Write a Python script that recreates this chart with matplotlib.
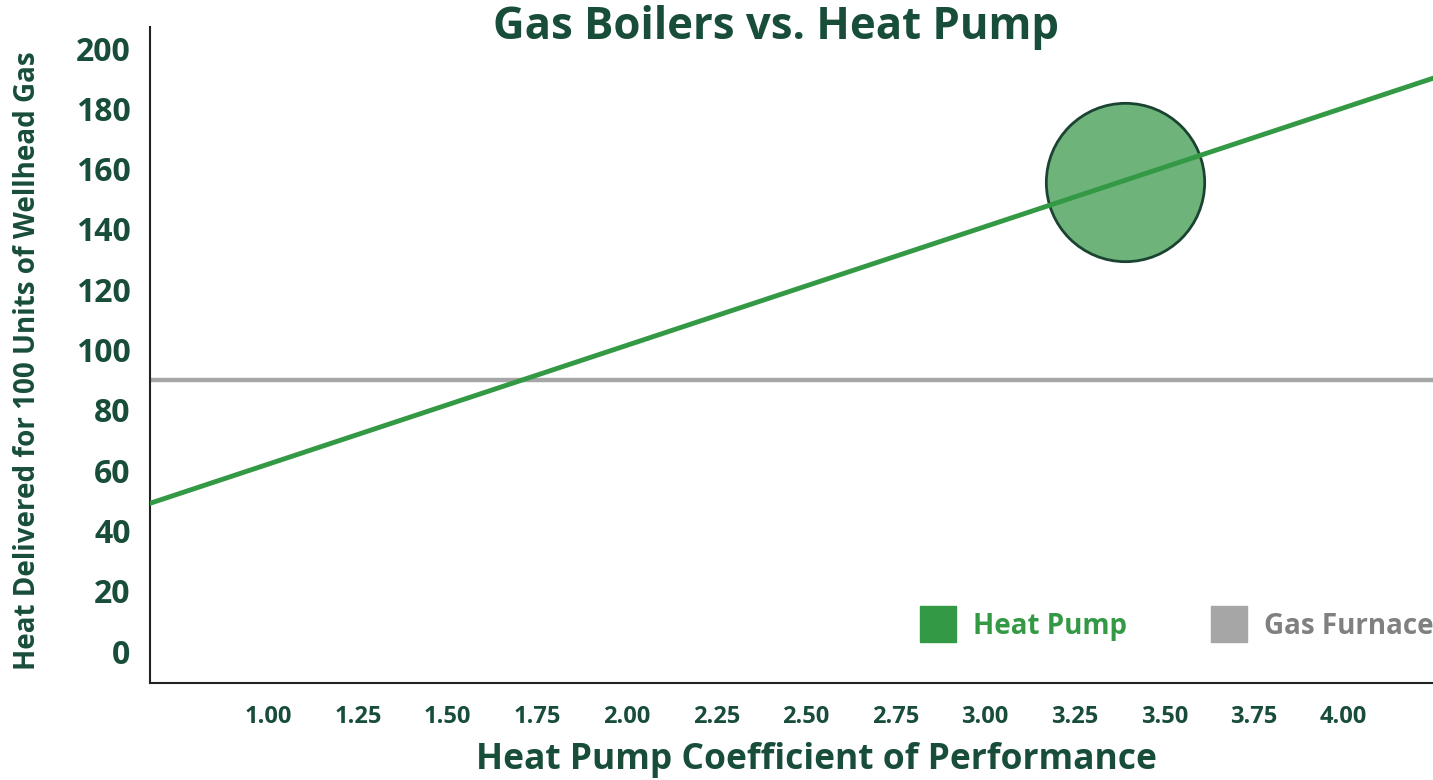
import matplotlib.pyplot as plt
from matplotlib.lines import Line2D

# values
hp_cop = [0.67, 4.25]
hp_heat = [49, 190]
gas_heat = 90
marker_cop = [3.39]
marker_heat = [155.6]
x_ticks = [1.00, 1.25, 1.50, 1.75, 2.00, 2.25, 2.50, 2.75, 3.00, 3.25, 3.50, 3.75, 4.00]
y_ticks = [0, 20, 40, 60, 80, 100, 120, 140, 160, 180, 200]

dark = '#174d39'
green = '#339944'
grey = '#a6a6a6'

plt.rcParams['font.family'] = ['Open Sans', 'DejaVu Sans']
plt.rcParams['font.weight'] = 'bold'

W, H = 1433, 780
fig = plt.figure(figsize=(14.33, 7.8), dpi=100)
ax = fig.add_axes([150 / W, 1 - 683 / H, 1 - 150 / W, (683 - 27) / H])

ax.axhline(gas_heat, color=grey, lw=3.2, zorder=2)
ax.scatter(marker_cop, marker_heat, s=13000, color='#6db37a', edgecolor='#1b4332', linewidth=2, zorder=3)
ax.plot(hp_cop, hp_heat, color=green, lw=3.5, zorder=4)

ax.set_xlim(0.67, 4.25)
ax.set_ylim(-10.6, 207)
ax.set_xticks(x_ticks)
ax.set_xticklabels(['%.2f' % v for v in x_ticks])
ax.set_yticks(y_ticks)
ax.tick_params(axis='x', length=0, pad=16, labelsize=17, labelcolor=dark)
ax.tick_params(axis='y', length=0, pad=14, labelsize=23, labelcolor=dark)
for lab in ax.get_xticklabels() + ax.get_yticklabels():
    lab.set_fontweight('bold')

for s in ['top', 'right']:
    ax.spines[s].set_visible(False)
for s in ['left', 'bottom']:
    ax.spines[s].set_color('#222222')
    ax.spines[s].set_linewidth(1.5)

fig.text(816 / W, 1 - 760 / H, 'Heat Pump Coefficient of Performance', ha='center', va='center',
         fontsize=25.5, color=dark, fontweight='bold')
fig.text(28 / W, 1 - 361 / H, 'Heat Delivered for 100 Units of Wellhead Gas', ha='center', va='center',
         rotation=90, fontsize=20, color=dark, fontweight='bold')
fig.text(776 / W, 1 - 27 / H, 'Gas Boilers vs. Heat Pump', ha='center', va='center',
         fontsize=31.5, color=dark, fontweight='bold')

handles = [Line2D([], [], ls='none', marker='s', markersize=26, color=green),
           Line2D([], [], ls='none', marker='s', markersize=26, color=grey)]
leg = ax.legend(handles, ['Heat Pump', 'Gas Furnace'], loc='lower right', ncol=2, frameon=False,
                columnspacing=2.7, handletextpad=0.25, bbox_to_anchor=(1.02, 0.026),
                labelcolor=[green, '#808080'], prop={'weight': 'bold', 'size': 20})

fig.savefig('out.png', dpi=100)
